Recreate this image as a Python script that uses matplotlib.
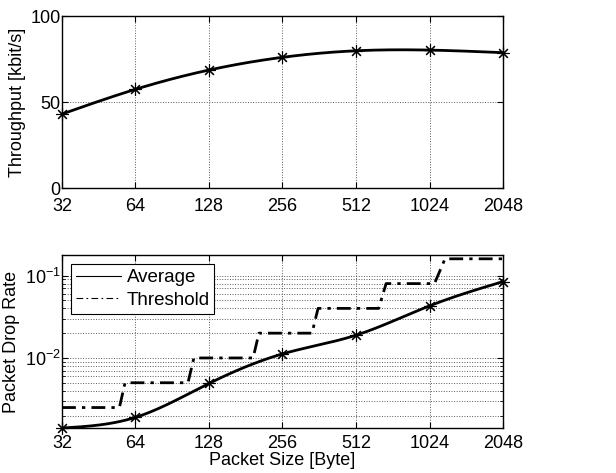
# Throughput and packet drop rate vs packet size

import numpy as np
import matplotlib
matplotlib.use('Agg')
import matplotlib.pyplot as plt
from matplotlib.lines import Line2D
from matplotlib.ticker import FixedLocator, FixedFormatter, LogLocator, NullFormatter

plt.rcParams['font.family'] = ['Liberation Sans', 'DejaVu Sans']
plt.rcParams['font.size'] = 13

# Data
packet_sizes = [32, 64, 128, 256, 512, 1024, 2048]
size_labels = ['32', '64', '128', '256', '512', '1024', '2048']
throughput = [43.0, 57.4, 68.6, 76.0, 79.8, 80.2, 78.7]
drop_average = [0.00141, 0.0019, 0.0049, 0.0112, 0.0189, 0.0429, 0.0846]
thr_sizes = [32, 55, 58, 105, 111, 194, 205, 338, 358, 634, 680, 1073, 1185, 2048]
thr_rates = [0.0025, 0.0025, 0.005, 0.005, 0.01, 0.01, 0.02, 0.02, 0.04, 0.04, 0.08, 0.08, 0.16, 0.16]


def smooth(x, y, n=300):
    # natural cubic spline through the points (for drawing a smooth line)
    x = np.asarray(x, float)
    y = np.asarray(y, float)
    k = len(x)
    h = np.diff(x)
    A = np.zeros((k, k))
    b = np.zeros(k)
    A[0, 0] = A[-1, -1] = 1
    for i in range(1, k - 1):
        A[i, i - 1] = h[i - 1]
        A[i, i] = 2 * (h[i - 1] + h[i])
        A[i, i + 1] = h[i]
        b[i] = 6 * ((y[i + 1] - y[i]) / h[i] - (y[i] - y[i - 1]) / h[i - 1])
    M = np.linalg.solve(A, b)
    xs = np.linspace(x[0], x[-1], n)
    idx = np.clip(np.searchsorted(x, xs) - 1, 0, k - 2)
    x0, x1 = x[idx], x[idx + 1]
    hh = x1 - x0
    t0, t1 = x1 - xs, xs - x0
    ys = (M[idx] * t0 ** 3 + M[idx + 1] * t1 ** 3) / (6 * hh) \
        + (y[idx] / hh - M[idx] * hh / 6) * t0 + (y[idx + 1] / hh - M[idx + 1] * hh / 6) * t1
    return xs, ys


fig = plt.figure(figsize=(6.16, 4.73), dpi=100)

lx = np.log2(packet_sizes)
star = (8, 2, 0)  # asterisk marker

# Top: throughput
ax1 = fig.add_axes([0.1006, 0.6025, 0.716, 0.3636])
sx, sy = smooth(lx, throughput)
ax1.plot(2 ** sx, sy, color='k', lw=2)
ax1.plot(packet_sizes, throughput, ls='none', marker=star, color='k', ms=9, mew=0.8, clip_on=False)
ax1.set_xscale('log', base=2)
ax1.set_xlim(32, 2048)
ax1.set_ylim(0, 100)
ax1.set_yticks([0, 50, 100])
ax1.set_ylabel('Throughput [kbit/s]', labelpad=3)

# Bottom: packet drop rate
ax2 = fig.add_axes([0.1006, 0.0951, 0.716, 0.3658])
sx, sy = smooth(lx, np.log10(drop_average))
ax2.plot(2 ** sx, 10 ** sy, color='k', lw=2)
ax2.plot(packet_sizes, drop_average, ls='none', marker=star, color='k', ms=9, mew=0.8, clip_on=False)
ax2.plot(thr_sizes, thr_rates, color='k', lw=2, dashes=(5, 2.2, 1.2, 2.2))
ax2.set_xscale('log', base=2)
ax2.set_yscale('log')
ax2.set_xlim(32, 2048)
ax2.set_ylim(0.00141, 0.178)
ax2.yaxis.set_major_locator(LogLocator(base=10, numticks=10))
ax2.yaxis.set_minor_locator(LogLocator(base=10, subs=np.arange(2, 10), numticks=20))
ax2.yaxis.set_minor_formatter(NullFormatter())
ax2.set_ylabel('Packet Drop Rate', labelpad=3)

handles = [Line2D([], [], color='k', lw=0.8),
           Line2D([], [], color='k', lw=0.8, dashes=(6, 3, 1.5, 3))]
leg = ax2.legend(handles, ['Average', 'Threshold'], loc='upper left',
                 fancybox=False, framealpha=1, edgecolor='k',
                 borderaxespad=0.5, handlelength=2.4, handletextpad=0.3,
                 labelspacing=0.3, borderpad=0.25, fontsize=13.5)
leg.get_frame().set_linewidth(0.8)

for ax in (ax1, ax2):
    ax.xaxis.set_major_locator(FixedLocator(packet_sizes))
    ax.xaxis.set_major_formatter(FixedFormatter(size_labels))
    ax.xaxis.set_minor_locator(FixedLocator([]))
    ax.tick_params(which='both', direction='in', top=True, right=True)
    ax.tick_params(which='major', length=4)
    ax.tick_params(which='minor', length=2.5)
    ax.tick_params(axis='y', pad=1)
    ax.tick_params(axis='x', pad=7)
    ax.grid(True, which='major', ls=':', color='0.35', lw=0.7)
    for s in ax.spines.values():
        s.set_linewidth(1)

ax2.tick_params(axis='x', pad=5)
ax2.grid(True, which='minor', axis='y', ls=':', color='0.35', lw=0.7)
ax2.set_xlabel('Packet Size [Byte]', labelpad=0)

fig.savefig('out.png', dpi=100)
